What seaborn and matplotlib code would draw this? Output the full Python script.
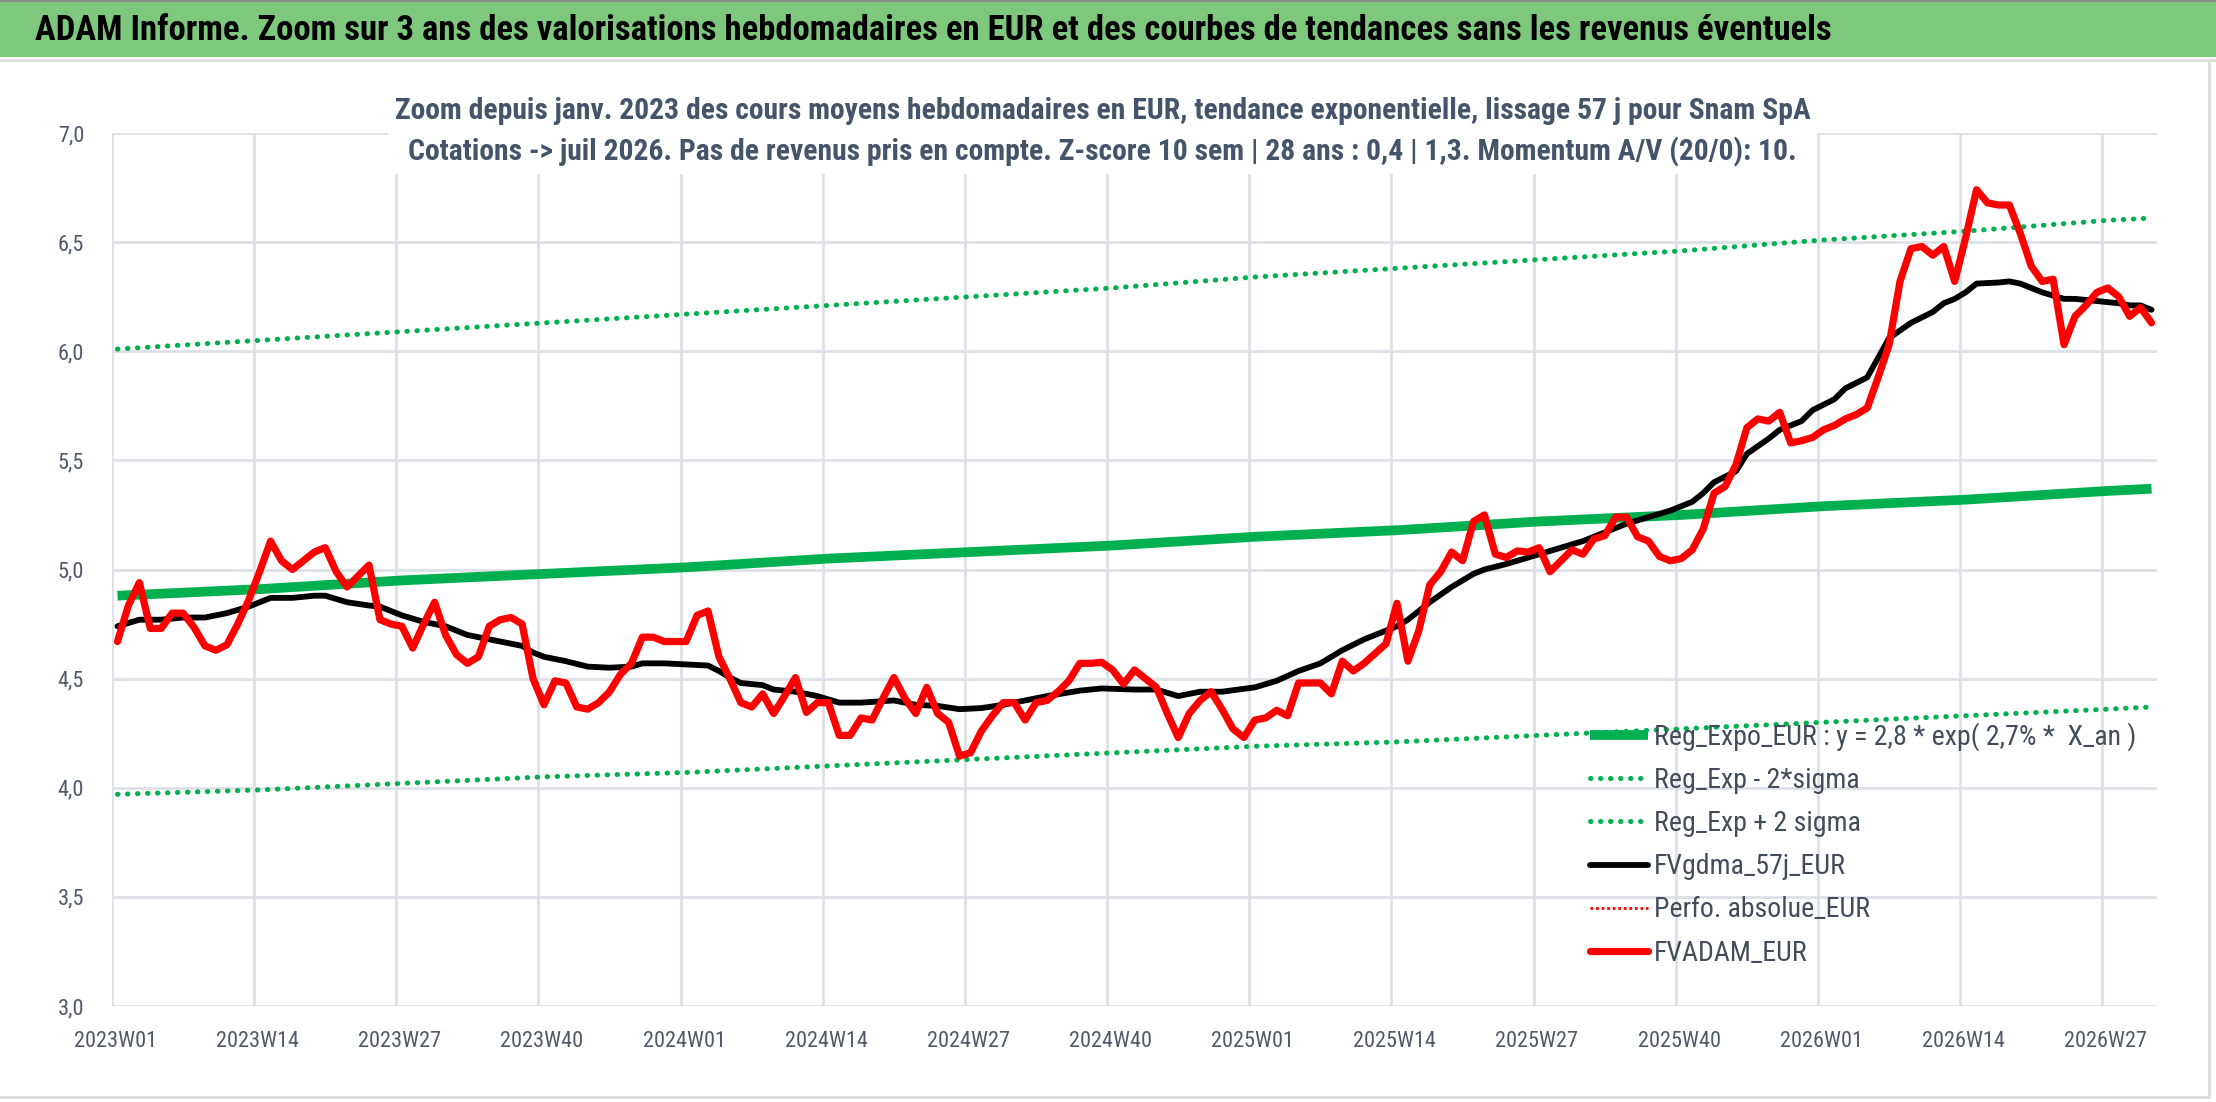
import matplotlib
matplotlib.use("Agg")
import matplotlib.pyplot as plt
import matplotlib.patches as mpatches
import matplotlib.font_manager as fm
from matplotlib.lines import Line2D
import seaborn as sns

# semaines 2023W01 .. 2026W31 (index 0..186)
week_labels = ["2023W01", "2023W14", "2023W27", "2023W40", "2024W01", "2024W14",
               "2024W27", "2024W40", "2025W01", "2025W14", "2025W27", "2025W40",
               "2026W01", "2026W14", "2026W27"]

# FVADAM_EUR : cours moyen hebdomadaire
fvadam = [4.67, 4.835, 4.94, 4.73, 4.73, 4.80, 4.80, 4.735, 4.65, 4.63,
          4.655, 4.75, 4.86, 4.99, 5.13, 5.04, 5.00, 5.04, 5.08, 5.10,
          4.99, 4.92, 4.97, 5.02, 4.77, 4.75, 4.74, 4.64, 4.75, 4.85,
          4.70, 4.61, 4.57, 4.60, 4.74, 4.77, 4.78, 4.75, 4.50, 4.38,
          4.49, 4.48, 4.37, 4.36, 4.39, 4.44, 4.52, 4.57, 4.69, 4.69,
          4.67, 4.67, 4.67, 4.79, 4.81, 4.60, 4.50, 4.39, 4.37, 4.43,
          4.34, 4.42, 4.505, 4.345, 4.39, 4.39, 4.24, 4.24, 4.32, 4.31,
          4.41, 4.505, 4.41, 4.34, 4.46, 4.34, 4.30, 4.145, 4.16, 4.26,
          4.33, 4.39, 4.39, 4.31, 4.39, 4.40, 4.44, 4.49, 4.57, 4.57,
          4.575, 4.54, 4.475, 4.54, 4.50, 4.46, 4.34, 4.23, 4.34, 4.40,
          4.44, 4.36, 4.27, 4.23, 4.31, 4.32, 4.355, 4.33, 4.48, 4.48,
          4.48, 4.43, 4.58, 4.535, 4.57, 4.615, 4.66, 4.845, 4.58, 4.72,
          4.93, 4.99, 5.08, 5.04, 5.22, 5.25, 5.07, 5.055, 5.085, 5.08,
          5.10, 4.99, 5.04, 5.09, 5.07, 5.14, 5.155, 5.24, 5.24, 5.15,
          5.13, 5.06, 5.04, 5.05, 5.09, 5.185, 5.35, 5.38, 5.48, 5.65,
          5.69, 5.68, 5.72, 5.58, 5.59, 5.605, 5.64, 5.66, 5.69, 5.71,
          5.74, 5.88, 6.03, 6.32, 6.47, 6.48, 6.44, 6.48, 6.32, 6.52,
          6.74, 6.68, 6.67, 6.67, 6.54, 6.39, 6.32, 6.33, 6.03, 6.16,
          6.21, 6.27, 6.29, 6.25, 6.16, 6.20, 6.13]
weeks = list(range(len(fvadam)))

# FVgdma_57j_EUR : moyenne lissée, lue à certaines semaines
gdma_weeks = [0, 2, 4, 6, 8, 10, 12, 14, 16, 18, 19, 21, 23, 24, 26, 28, 30, 32,
              34, 36, 37, 38, 39, 41, 43, 45, 47, 48, 50, 52, 54, 55, 56, 57,
              59, 60, 62, 64, 66, 68, 71, 73, 75, 77, 79, 81, 83, 85, 88, 90,
              93, 95, 97, 99, 101, 104, 106, 108, 110, 112, 114, 117, 118, 120,
              122, 124, 125, 127, 129, 131, 134, 136, 138, 140, 142, 144, 145,
              146, 148, 149, 151, 152, 154, 155, 157, 158, 160, 161, 162, 164,
              166, 167, 168, 169, 170, 172, 173, 174, 175, 176, 178, 179, 181,
              183, 184, 185, 186]
gdma = [4.74, 4.77, 4.77, 4.78, 4.78, 4.80, 4.83, 4.87, 4.87, 4.88, 4.88, 4.85,
        4.835, 4.83, 4.79, 4.76, 4.74, 4.70, 4.68, 4.66, 4.65, 4.62, 4.60, 4.58,
        4.555, 4.55, 4.555, 4.57, 4.57, 4.565, 4.56, 4.535, 4.505, 4.48, 4.47,
        4.45, 4.44, 4.42, 4.39, 4.39, 4.40, 4.38, 4.375, 4.36, 4.365, 4.38,
        4.40, 4.42, 4.445, 4.455, 4.45, 4.45, 4.42, 4.44, 4.44, 4.46, 4.49,
        4.535, 4.57, 4.63, 4.68, 4.74, 4.77, 4.85, 4.92, 4.98, 5.00, 5.025,
        5.055, 5.085, 5.13, 5.17, 5.21, 5.24, 5.27, 5.31, 5.35, 5.40, 5.45,
        5.53, 5.60, 5.64, 5.68, 5.73, 5.78, 5.83, 5.88, 5.97, 6.06, 6.13,
        6.18, 6.22, 6.24, 6.27, 6.31, 6.315, 6.32, 6.31, 6.29, 6.27, 6.24,
        6.24, 6.23, 6.22, 6.21, 6.21, 6.19]

# tendances exponentielles, lues aux graduations
trend_weeks = [0, 13, 26, 39, 52, 65, 78, 91, 104, 117, 130, 143, 156, 169, 182, 186]
reg_expo = [4.88, 4.91, 4.95, 4.98, 5.01, 5.05, 5.08, 5.11, 5.15, 5.18, 5.22,
            5.25, 5.29, 5.32, 5.36, 5.37]
reg_low = [3.97, 3.99, 4.02, 4.05, 4.07, 4.10, 4.13, 4.16, 4.19, 4.21, 4.24,
           4.27, 4.30, 4.33, 4.36, 4.37]
reg_high = [6.01, 6.05, 6.09, 6.13, 6.17, 6.21, 6.25, 6.29, 6.34, 6.38, 6.42,
            6.46, 6.51, 6.55, 6.60, 6.61]

title = ("ADAM Informe. Zoom sur 3 ans des valorisations hebdomadaires en EUR "
         "et des courbes de tendances sans les revenus éventuels")
subtitle = ("Zoom depuis janv. 2023 des cours moyens hebdomadaires en EUR, tendance exponentielle, lissage 57 j pour Snam SpA\n"
            "Cotations -> juil 2026. Pas de revenus pris en compte. Z-score 10 sem | 28 ans : 0,4 | 1,3. Momentum A/V (20/0): 10.")
legend_labels = ["Reg_Expo_EUR : y = 2,8 * exp( 2,7% *  X_an )", "Reg_Exp - 2*sigma",
                 "Reg_Exp + 2 sigma", "FVgdma_57j_EUR", "Perfo. absolue_EUR", "FVADAM_EUR"]

GREEN = "#00b050"
TXT = "#4f5968"
GRID = "#dde0e6"
dots = (0, (0.1, 1.9))

sns.set_theme(style="white")

# police étroite type Calibri si disponible
ttf = fm.fontManager.ttflist
names = {f.name for f in ttf}
family, stretch = "Lato", "normal"
for n in ["Liberation Sans Narrow", "Roboto Condensed", "Open Sans Condensed",
          "Noto Sans Condensed", "DejaVu Sans Condensed"]:
    if n in names:
        family = n
        break
else:
    for n in ["Noto Sans", "Open Sans", "Roboto", "DejaVu Sans"]:
        if any(f.name == n and f.stretch == "condensed" for f in ttf):
            family, stretch = n, "condensed"
            break
plt.rcParams["font.family"] = [family, "DejaVu Sans"]
plt.rcParams["font.stretch"] = stretch

W, H = 2216, 1102
fig = plt.figure(figsize=(W / 100, H / 100), dpi=100)
fig.patch.set_facecolor("white")
renderer = fig.canvas.get_renderer()


def size_for(s, target_px, weight="normal", base=20):
    t = fig.text(0, 0, s, fontsize=base, fontweight=weight)
    w = t.get_window_extent(renderer=renderer).width
    t.remove()
    return base * target_px / w


# bandeau de titre
fig.patches.append(mpatches.Rectangle((0, 1 - 57 / H), 1, 57 / H, transform=fig.transFigure,
                                      facecolor="#7ec87e", edgecolor="none", zorder=0))
fig.add_artist(Line2D([0, 1], [1 - 1 / H] * 2, transform=fig.transFigure, color="#8a8a8a", lw=1.5))
fig.add_artist(Line2D([0, 1], [1 - 60 / H] * 2, transform=fig.transFigure, color="#dcdcdc", lw=2))
fig.add_artist(Line2D([2209 / W] * 2, [1 - 1097 / H, 1 - 60 / H], transform=fig.transFigure,
                      color="#dcdcdc", lw=2))
fig.add_artist(Line2D([0, 2209 / W], [1 - 1097 / H] * 2, transform=fig.transFigure,
                      color="#dcdcdc", lw=2))
fig.text(35 / W, 1 - 30 / H, title, ha="left", va="center",
         fontsize=size_for(title, 1788, "bold"), fontweight="bold", color="black")

ax = fig.add_axes([112 / W, 1 - 1006 / H, (2157 - 112) / W, (1006 - 133) / H])

sns.lineplot(x=trend_weeks, y=reg_expo, ax=ax, color=GREEN, linewidth=7,
             solid_capstyle="butt", label=legend_labels[0])
sns.lineplot(x=trend_weeks, y=reg_low, ax=ax, color=GREEN, linewidth=3.6,
             linestyle=dots, dash_capstyle="round", label=legend_labels[1])
sns.lineplot(x=trend_weeks, y=reg_high, ax=ax, color=GREEN, linewidth=3.6,
             linestyle=dots, dash_capstyle="round", label=legend_labels[2])
sns.lineplot(x=gdma_weeks, y=gdma, ax=ax, color="black", linewidth=4.2,
             label=legend_labels[3])
sns.lineplot(x=weeks, y=fvadam, ax=ax, color="#ff0000", linewidth=5.2,
             label=legend_labels[5])

tick_size = size_for("2023W01", 83)
ax.set_xlim(-0.5, len(fvadam) - 0.5)
ax.set_ylim(3.0, 7.0)
ax.set_yticks([3.0 + 0.5 * i for i in range(9)])
ax.set_yticklabels([f"{3.0 + 0.5 * i:.1f}".replace(".", ",") for i in range(9)])
ax.set_xticks([13 * i - 0.2 for i in range(len(week_labels))])
ax.set_xticklabels(week_labels)
ax.set_xticks([13 * i - 0.5 for i in range(len(week_labels))], minor=True)
ax.tick_params(axis="both", which="both", length=0, colors=TXT, labelsize=tick_size)
ax.tick_params(axis="x", pad=18)
ax.tick_params(axis="y", pad=20)
ax.grid(axis="y", which="major", color=GRID, linewidth=2)
ax.grid(axis="x", which="minor", color=GRID, linewidth=2)
ax.set_axisbelow(True)
for s in ax.spines.values():
    s.set_visible(False)
ax.set_xlabel("")
ax.set_ylabel("")

# légende (la série Perfo. absolue n'a pas de valeur dans la fenêtre)
leg_size = size_for(legend_labels[0], 482)
h, l = ax.get_legend_handles_labels()
perfo = Line2D([], [], color="#ff0000", linewidth=2, linestyle=(0, (1, 1)))
h = h[:4] + [perfo] + h[4:]
l = l[:4] + [legend_labels[4]] + l[4:]
leg = ax.legend(h, l, loc="upper left", bbox_to_anchor=(1590 / W, 1 - 722 / H),
                bbox_transform=fig.transFigure, frameon=False, fontsize=leg_size,
                handlelength=58 / (leg_size * 100 / 72), handletextpad=0.2,
                labelspacing=0.58, borderaxespad=0, borderpad=0)
for t in leg.get_texts():
    t.set_color("#434c5a")

sub_size = size_for(subtitle.split("\n")[0], 1413, "bold")
fig.text(0.4975, 1 - 132 / H, subtitle, ha="center", va="center", fontsize=sub_size,
         color="#44546a", fontweight="bold", linespacing=1.5,
         bbox=dict(facecolor="white", edgecolor="none", pad=5))

fig.savefig("out.png", dpi=100)
